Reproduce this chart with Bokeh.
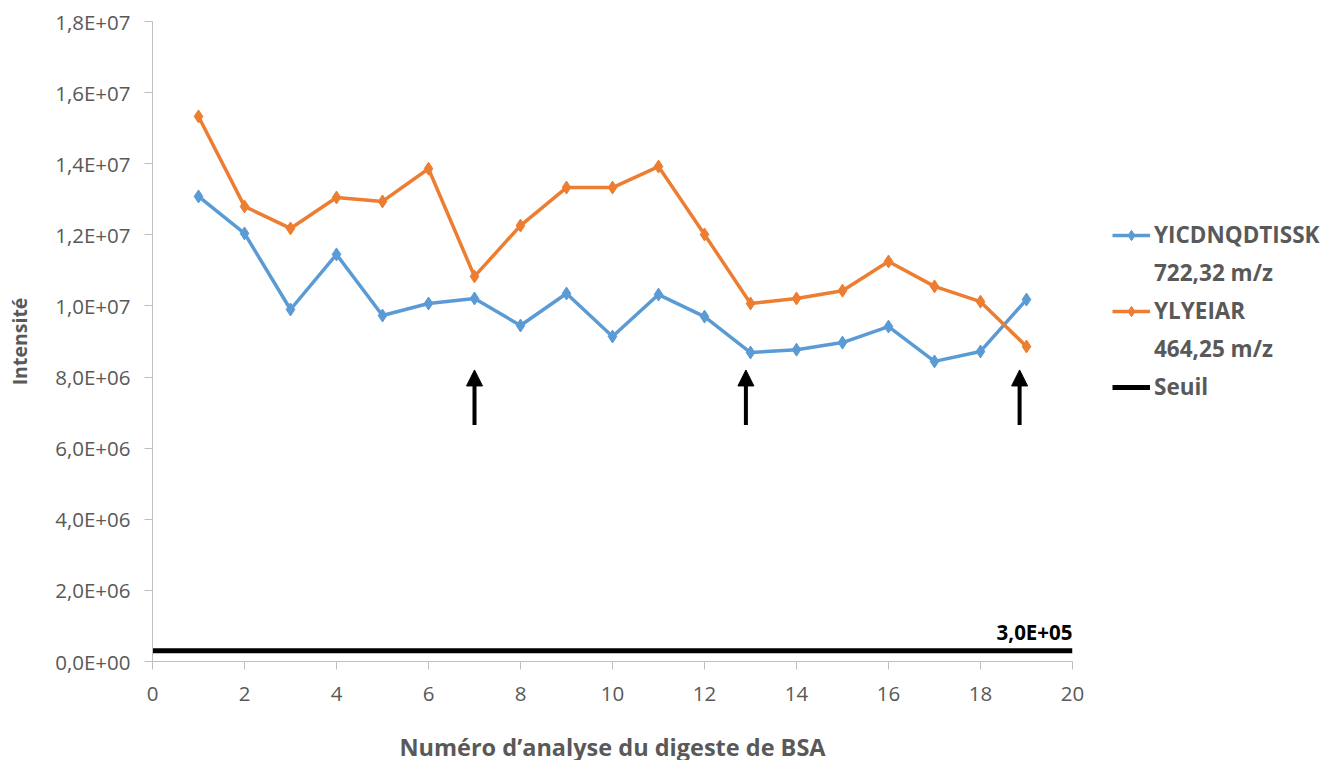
from bokeh.plotting import figure
from bokeh.models import Range1d, Legend, LegendItem, Label, Arrow, NormalHead, FixedTicker, ColumnDataSource
from bokeh.embed import file_html
from bokeh.resources import INLINE

# ---- data ----
analyses = list(range(1, 20))
yicd = [13.08e6, 12.04e6, 9.90e6, 11.45e6, 9.73e6, 10.07e6, 10.21e6, 9.45e6, 10.35e6, 9.14e6,
        10.32e6, 9.70e6, 8.69e6, 8.77e6, 8.97e6, 9.42e6, 8.44e6, 8.72e6, 10.18e6]
ylye = [15.33e6, 12.80e6, 12.18e6, 13.05e6, 12.94e6, 13.86e6, 10.83e6, 12.26e6, 13.33e6, 13.33e6,
        13.92e6, 12.01e6, 10.07e6, 10.21e6, 10.43e6, 11.25e6, 10.55e6, 10.12e6, 8.86e6]
seuil_x = [0, 20]
seuil_y = [3.0e5, 3.0e5]
seuil_label = "3,0E+05"
arrow_x = [7.0, 12.9, 18.85]
arrow_y0 = 6.65e6
arrow_y1 = 8.2e6
y_ticks = [0, 2e6, 4e6, 6e6, 8e6, 10e6, 12e6, 14e6, 16e6, 18e6]
y_tick_labels = ["0,0E+00", "2,0E+06", "4,0E+06", "6,0E+06", "8,0E+06", "1,0E+07",
                 "1,2E+07", "1,4E+07", "1,6E+07", "1,8E+07"]
x_ticks = list(range(0, 21, 2))
series_names = ["YICDNQDTISSK", "YLYEIAR", "Seuil"]
series_sub = ["722,32 m/z", "464,25 m/z"]

BLUE = "#5B9BD5"
ORANGE = "#ED7D31"
GRAY = "#595959"
FONT = "Open Sans"

p = figure(width=1315, height=750, output_backend="svg", toolbar_location=None,
           x_range=Range1d(0, 20), y_range=Range1d(0, 18e6),
           frame_width=920, frame_height=640,
           min_border_left=152, min_border_top=21, min_border_right=10, min_border_bottom=90)
p.outline_line_color = None
p.xgrid.visible = False
p.ygrid.visible = False

src = ColumnDataSource(dict(x=analyses, a=yicd, b=ylye))
l1 = p.line("x", "a", source=src, line_color=BLUE, line_width=3.5)
m1 = p.scatter("x", "a", source=src, marker="diamond", size=13, color=BLUE)
l2 = p.line("x", "b", source=src, line_color=ORANGE, line_width=3.5)
m2 = p.scatter("x", "b", source=src, marker="diamond", size=13, color=ORANGE)
l3 = p.line(seuil_x, seuil_y, line_color="black", line_width=5)
# invisible renderer used only for the second lines of the legend labels
inv = p.line(seuil_x, seuil_y, line_alpha=0)

p.add_layout(Label(x=20, y=seuil_y[0], text=seuil_label, text_align="right", y_offset=5,
                   text_font=FONT, text_font_size="20.5px", text_font_style="bold",
                   text_color="black"))

for ax in arrow_x:
    p.add_layout(Arrow(x_start=ax, y_start=arrow_y0, x_end=ax, y_end=arrow_y1,
                       line_width=4, line_color="black",
                       end=NormalHead(size=16, fill_color="black", line_color="black")))

for axis in (p.xaxis[0], p.yaxis[0]):
    axis.axis_line_color = "#BFBFBF"
    axis.major_tick_line_color = "#BFBFBF"
    axis.minor_tick_line_color = None
    axis.major_tick_in = 0
    axis.major_tick_out = 8
    axis.major_label_text_color = GRAY
    axis.major_label_text_font = FONT
    axis.major_label_text_font_size = "20.5px"
    axis.axis_label_text_color = GRAY
    axis.axis_label_text_font = FONT
    axis.axis_label_text_font_style = "bold"

p.xaxis.ticker = FixedTicker(ticks=x_ticks)
p.yaxis.ticker = FixedTicker(ticks=y_ticks)
p.yaxis.major_label_overrides = {t: l for t, l in zip(y_ticks, y_tick_labels)}
p.xaxis.major_label_standoff = 17
p.yaxis.major_label_standoff = 14
p.xaxis.axis_label = "Numéro d’analyse du digeste de BSA"
p.xaxis.axis_label_text_font_size = "23.5px"
p.xaxis.axis_label_standoff = 27
p.yaxis.axis_label = "Intensité"
p.yaxis.axis_label_text_font_size = "19.5px"
p.yaxis.axis_label_standoff = 19

legend = Legend(items=[LegendItem(label=series_names[0], renderers=[l1, m1]),
                       LegendItem(label=series_sub[0], renderers=[inv]),
                       LegendItem(label=series_names[1], renderers=[l2, m2]),
                       LegendItem(label=series_sub[1], renderers=[inv]),
                       LegendItem(label=series_names[2], renderers=[l3])],
                location=(40, 259), border_line_color=None, background_fill_alpha=0,
                label_text_font=FONT, label_text_font_size="22.5px", label_text_font_style="bold",
                label_text_color=GRAY, glyph_width=38, glyph_height=26, label_height=26,
                spacing=7, label_standoff=4, padding=0, margin=0)
p.add_layout(legend, "right")

open("out.html", "w").write(file_html(p, INLINE))
